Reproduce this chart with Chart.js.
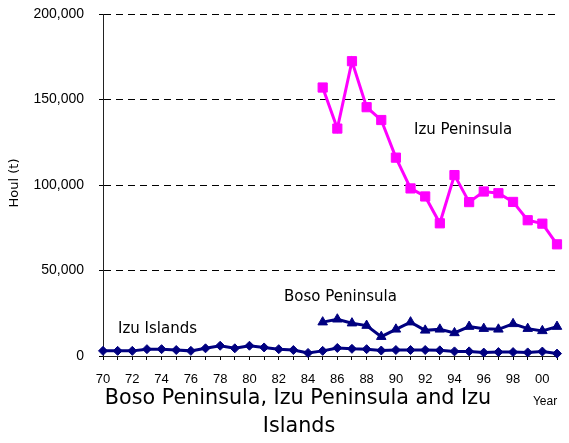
<!DOCTYPE html>
<html>
<head>
<meta charset="utf-8">
<script src="https://cdn.jsdelivr.net/npm/chart.js@4/dist/chart.umd.min.js"></script>
<style>
  html, body { margin: 0; padding: 0; background: #fff; }
  #wrap { width: 569px; height: 443px; position: relative; }
</style>
</head>
<body>
<div id="wrap"><canvas id="c" width="569" height="443"></canvas></div>
<script>
// Year categories (two-digit), 1970–2001
const years = ['70','71','72','73','74','75','76','77','78','79',
               '80','81','82','83','84','85','86','87','88','89',
               '90','91','92','93','94','95','96','97','98','99',
               '00','01'];

// Catch in tonnes
const izuIslands = [3000, 3000, 3000, 4000, 4000, 3500, 3000, 4500, 6000, 4500,
                    6000, 5000, 4000, 3500, 1800, 3000, 4700, 4200, 4000, 3200,
                    3500, 3500, 3500, 3300, 2700, 2700, 2000, 2300, 2300, 2100,
                    2600, 1400];

const bosoPeninsula = [null, null, null, null, null, null, null, null, null, null,
                       null, null, null, null, null, 19800, 21500, 19200, 17800, 11300,
                       15600, 19800, 15000, 15600, 13500, 17200, 16000, 15600, 18800, 16000,
                       14700, 17200];

const izuPeninsula = [null, null, null, null, null, null, null, null, null, null,
                      null, null, null, null, null, 157000, 133000, 172400, 145500, 138000,
                      116000, 98000, 93300, 77600, 105800, 90000, 96200, 95200, 90100, 79400,
                      77400, 65300];

const yTicks = [0, 50000, 100000, 150000, 200000];

const seriesNames = ['Izu Peninsula', 'Boso Peninsula', 'Izu Islands'];
const titleLines = ['Boso Peninsula, Izu Peninsula and Izu', 'Islands'];
const yTitle = 'Houl (t)';
const xTitle = 'Year';

const NAVY = '#000080';
const MAGENTA = '#ff00ff';

// Text drawn around the plot: series names, axis titles, chart title
const annotations = {
  id: 'annotations',
  afterDraw(chart) {
    const ctx = chart.ctx;
    ctx.save();
    ctx.fillStyle = '#000';
    ctx.textBaseline = 'middle';
    ctx.textAlign = 'left';

    ctx.font = '15px "DejaVu Sans"';
    ctx.fillText(seriesNames[0], 414, 130);
    ctx.fillText(seriesNames[1], 284, 297);
    ctx.fillText(seriesNames[2], 118, 329);

    ctx.font = '12px "Liberation Sans"';
    ctx.textAlign = 'center';
    ctx.fillText(xTitle, 545, 402);

    ctx.font = '20.7px "DejaVu Sans"';
    ctx.fillText(titleLines[0], 298, 399);
    ctx.fillText(titleLines[1], 299, 427);

    ctx.translate(15, 183);
    ctx.rotate(-Math.PI / 2);
    ctx.font = '13px "DejaVu Sans"';
    ctx.fillText(yTitle, 0, 0);
    ctx.restore();
  }
};

new Chart(document.getElementById('c'), {
  type: 'line',
  data: {
    labels: years,
    datasets: [
      {
        label: seriesNames[0],
        data: izuPeninsula,
        borderColor: MAGENTA,
        backgroundColor: MAGENTA,
        borderWidth: 3,
        pointStyle: 'rect',
        pointRadius: 6.5,
        pointBorderWidth: 1,
        tension: 0,
        clip: false
      },
      {
        label: seriesNames[1],
        data: bosoPeninsula,
        borderColor: NAVY,
        backgroundColor: NAVY,
        borderWidth: 3,
        pointStyle: 'triangle',
        pointRadius: 5.5,
        pointBorderWidth: 1,
        tension: 0,
        clip: false
      },
      {
        label: seriesNames[2],
        data: izuIslands,
        borderColor: NAVY,
        backgroundColor: NAVY,
        borderWidth: 3,
        pointStyle: 'rectRot',
        pointRadius: 4.5,
        pointBorderWidth: 1,
        tension: 0,
        clip: false
      }
    ]
  },
  options: {
    responsive: false,
    animation: false,
    events: [],
    layout: { padding: { top: 14, right: 12, left: 0, bottom: 0 } },
    plugins: {
      legend: { display: false },
      title: { display: false },
      tooltip: { enabled: false }
    },
    scales: {
      x: {
        type: 'category',
        offset: false,
        grid: {
          display: true,
          drawOnChartArea: false,
          drawTicks: true,
          tickLength: 4,
          color: '#000',
          lineWidth: 1
        },
        border: { display: true, color: '#222', width: 1 },
        ticks: {
          autoSkip: false,
          maxRotation: 0,
          minRotation: 0,
          padding: 12,
          color: '#000',
          font: { family: '"Liberation Sans", Arial, sans-serif', size: 13 },
          callback: (v, i) => (i % 2 === 0 ? years[i] : '')
        },
        afterFit: (s) => { s.height = 87; s.paddingLeft = 0; s.paddingRight = 0; }
      },
      y: {
        min: 0,
        max: 200000,
        afterBuildTicks: (s) => { s.ticks = yTicks.map(v => ({ value: v })); },
        grid: {
          color: '#000',
          lineWidth: 1,
          drawTicks: true,
          tickLength: 4,
          tickBorderDash: []
        },
        border: { display: true, color: '#222', width: 1, dash: [7, 5] },
        ticks: {
          padding: 15,
          color: '#000',
          font: { family: '"Liberation Sans", Arial, sans-serif', size: 14 },
          callback: (v) => v.toLocaleString('en-US')
        },
        afterFit: (s) => { s.width = 103; s.paddingTop = 0; s.paddingBottom = 0; }
      }
    }
  },
  plugins: [annotations]
});
</script>
</body>
</html>
